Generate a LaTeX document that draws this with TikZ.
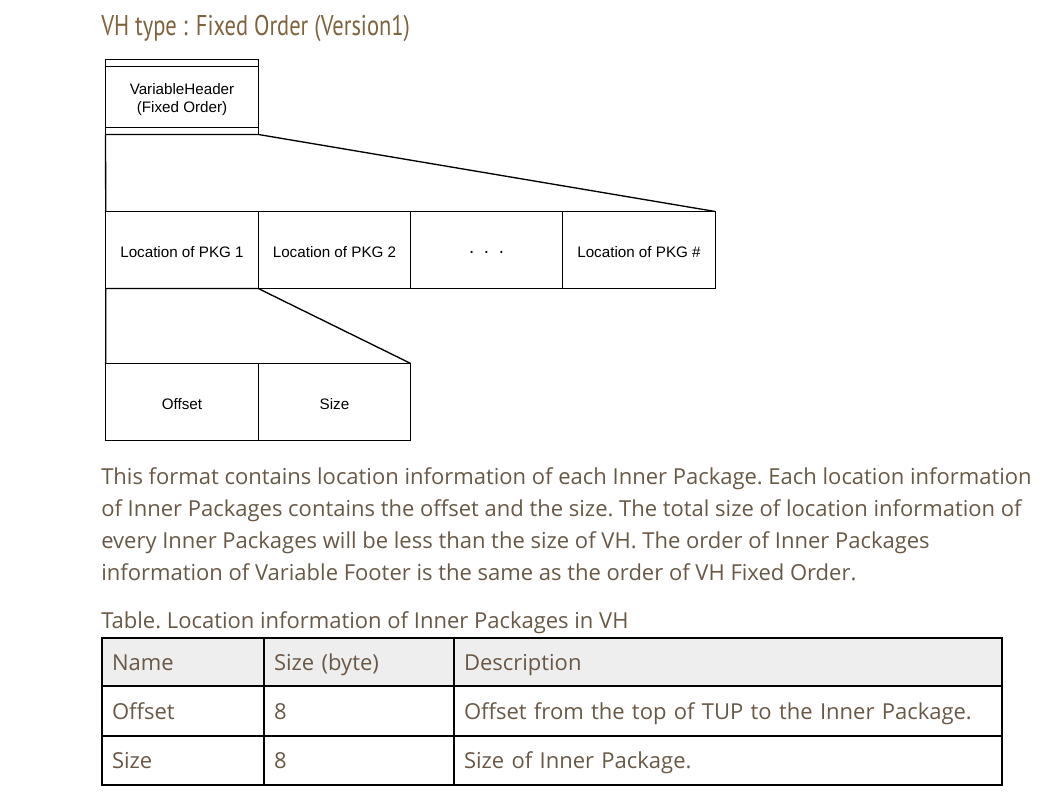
\documentclass[tikz,border=0pt]{standalone}
\usepackage{fontspec}
\setmainfont{Open Sans}
\newfontfamily\diagfont{Liberation Sans}
\newfontfamily\titlefont{PT Sans}
\usetikzlibrary{calc}
\definecolor{titlecol}{RGB}{128,98,60}
\definecolor{bodycol}{RGB}{105,88,70}
\definecolor{headfill}{RGB}{238,238,238}
\tikzset{
  blk/.style={draw=black, line width=1pt, minimum width=114.4pt, minimum height=57.75pt, inner sep=0pt, outer sep=0pt, text height=11.1pt, font=\diagfont\fontsize{11.4}{13.5}\selectfont, align=center},
  link/.style={draw=black, line width=1pt, line join=miter},
  para/.style={anchor=base west, inner sep=0pt, text=bodycol, font=\fontsize{16.5}{20}\selectfont\frenchspacing},
  cell/.style={draw=black, line width=1.5pt, inner xsep=7.5pt, inner ysep=0pt, outer sep=0pt, anchor=north west, align=left, text height=15.5pt, text depth=3pt, text=bodycol, font=\fontsize{16.5}{20}\selectfont\frenchspacing},
}
\begin{document}
\begin{tikzpicture}[x=0.75pt,y=-0.75pt]
\useasboundingbox (0,0) rectangle (1052,804);
% title
\node[anchor=base west, inner sep=0pt, text=titlecol] (title) at (101,35)
  {\resizebox{231.5pt}{\height}{\titlefont\fontsize{21.4}{24}\selectfont VH type : Fixed Order (Version1)}};
\begin{scope}[shift={(0.5,0.5)}]
% top box
\node[blk, text height={}, minimum width=114.75pt, minimum height=56.25pt] (vh) at (181.5,96.5) {\rule{0pt}{12.6pt}VariableHeader\\(Fixed Order)};
\draw[link] ($(vh.north west)+(0,7)$) -- ($(vh.north east)+(0,7)$);
\draw[link] ($(vh.south west)+(0,-7)$) -- ($(vh.south east)+(0,-7)$);
% row of locations
\node[blk] (p1) at (181.5,249.5) {Location of PKG 1};
\node[blk] (p2) at (334,249.5) {Location of PKG 2};
\node[blk, font=\diagfont\fontsize{14}{14}\selectfont] (p3) at (486,249.5) {\textperiodcentered\hspace{6.5pt}\textperiodcentered\hspace{6.5pt}\textperiodcentered};
\node[blk] (p4) at (638.5,249.5) {Location of PKG \#};
\draw[link] (p4.north east) -- (vh.south east) -- (vh.south west) -- (p1.north west);
% offset/size
\node[blk] (s1) at (181.5,401.5) {Offset};
\node[blk] (s2) at (334,401.5) {Size};
\draw[link] (s2.north east) -- (p1.south east) -- (p1.south west) -- (s1.north west);
\end{scope}
% paragraph
\node[para] (l1) at (101,484) {This format contains location information of each Inner Package. Each location information};
\node[para] (l2) at (101,516) {of Inner Packages contains the offset and the size. The total size of location information of};
\node[para] (l3) at (101,548) {every Inner Packages will be less than the size of VH. The order of Inner Packages};
\node[para] (l4) at (101,580) {information of Variable Footer is the same as the order of VH Fixed Order.};
\node[para] (cap) at (101,628) {Table. Location information of Inner Packages in VH};
% table
\node[cell, fill=headfill, text width=106.5pt, minimum height=36pt] (h1) at (102,638) {Name};
\node[cell, fill=headfill, text width=127.5pt, minimum height=36pt] (h2) at (264,638) {Size (byte)};
\node[cell, fill=headfill, text width=396pt, minimum height=36pt] (h3) at (454,638) {Description};
\node[cell, text width=106.5pt, minimum height=37.5pt] (r11) at (102,686) {Offset};
\node[cell, text width=127.5pt, minimum height=37.5pt] (r12) at (264,686) {8};
\node[cell, text width=396pt, minimum height=37.5pt] (r13) at (454,686) {Offset from the top of TUP to the Inner Package.};
\node[cell, text width=106.5pt, minimum height=36.75pt] (r21) at (102,736) {Size};
\node[cell, text width=127.5pt, minimum height=36.75pt] (r22) at (264,736) {8};
\node[cell, text width=396pt, minimum height=36.75pt] (r23) at (454,736) {Size of Inner Package.};
\end{tikzpicture}
\end{document}
